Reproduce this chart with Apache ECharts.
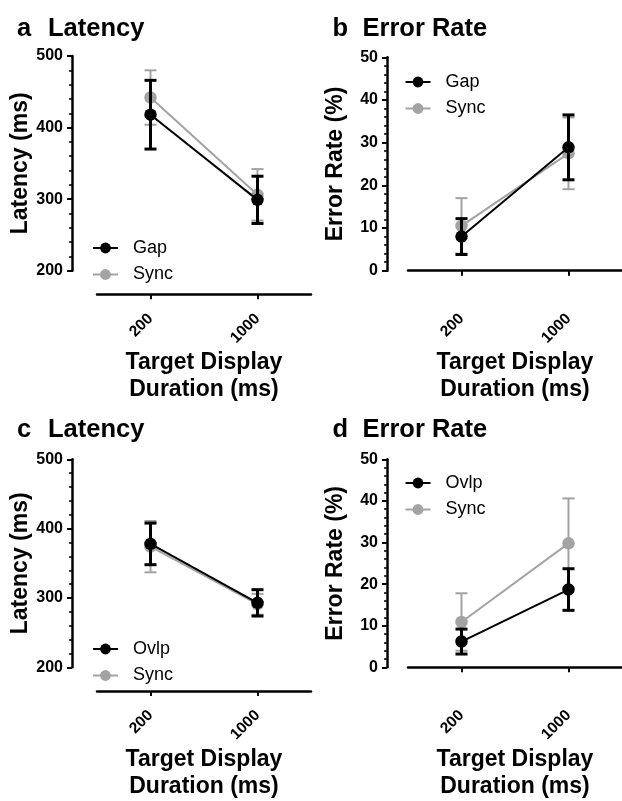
<!DOCTYPE html>
<html>
<head>
<meta charset="utf-8">
<script src="https://cdn.jsdelivr.net/npm/echarts@6/dist/echarts.min.js"></script>
<style>html,body{margin:0;padding:0;background:#fff}#c{width:622px;height:801px}</style>
</head>
<body>
<div id="c"></div>
<script>
// ---- data ----
const categories = ['200', '1000'];
// panel a: latency (ms)
const latGapMean = [418, 299];
const latGapErr = [48, 33];
const latSyncAMean = [442, 306];
const latSyncAErr = [38, 36];
// panel b: error rate (%)
const errGapMean = [8.0, 28.9];
const errGapErr = [4.2, 7.6];
const errSyncBMean = [10.5, 27.5];
const errSyncBErr = [6.5, 8.4];
// panel c: latency (ms)
const latOvlpMean = [378, 293];
const latOvlpErr = [30, 19];
const latSyncCMean = [374, 291];
const latSyncCErr = [37, 15];
// panel d: error rate (%)
const errOvlpMean = [6.2, 18.7];
const errOvlpErr = [3.0, 5.0];
const errSyncDMean = [10.9, 29.8];
const errSyncDErr = [6.9, 10.8];

const latTicks = [200, 300, 400, 500];
const errTicks = [0, 10, 20, 30, 40, 50];

const BLACK = '#000000';
const GRAY = '#a3a3a3';
const FONT = 'Liberation Sans, Arial, sans-serif';

const chart = echarts.init(document.getElementById('c'), null, {renderer: 'canvas'});

const panels = [
  {letter: 'a', title: 'Latency', yName: 'Latency (ms)', left: 97, top: 56, height: 214.7, ticks: latTicks,
   series: [{name: 'Sync', color: GRAY, mean: latSyncAMean, err: latSyncAErr},
            {name: 'Gap', color: BLACK, mean: latGapMean, err: latGapErr}],
   legend: ['Gap', 'Sync'], legLeft: 92, legTop: 238, titleTop: 16},
  {letter: 'b', title: 'Error Rate', yName: 'Error Rate (%)', left: 408, top: 57.3, height: 213.4, ticks: errTicks,
   series: [{name: 'Sync', color: GRAY, mean: errSyncBMean, err: errSyncBErr},
            {name: 'Gap', color: BLACK, mean: errGapMean, err: errGapErr}],
   legend: ['Gap', 'Sync'], legLeft: 404.5, legTop: 72, titleTop: 16},
  {letter: 'c', title: 'Latency', yName: 'Latency (ms)', left: 97, top: 459.3, height: 213.4, ticks: latTicks,
   series: [{name: 'Sync', color: GRAY, mean: latSyncCMean, err: latSyncCErr},
            {name: 'Ovlp', color: BLACK, mean: latOvlpMean, err: latOvlpErr}],
   legend: ['Ovlp', 'Sync'], legLeft: 92, legTop: 639, titleTop: 417},
  {letter: 'd', title: 'Error Rate', yName: 'Error Rate (%)', left: 408, top: 459.3, height: 213.4, ticks: errTicks,
   series: [{name: 'Sync', color: GRAY, mean: errSyncDMean, err: errSyncDErr},
            {name: 'Ovlp', color: BLACK, mean: errOvlpMean, err: errOvlpErr}],
   legend: ['Ovlp', 'Sync'], legLeft: 404.5, legTop: 473, titleTop: 417}
];

const grid = [], xAxis = [], yAxis = [], series = [], title = [], legend = [];

function errRender(color, lw, capW) {
  return function (params, api) {
    const x = api.value(0);
    const lo = api.coord([x, api.value(1)]);
    const hi = api.coord([x, api.value(2)]);
    const hw = capW / 2;
    const st = {stroke: color, lineWidth: lw, fill: null};
    return {
      type: 'group',
      children: [
        {type: 'line', shape: {x1: lo[0], y1: lo[1], x2: hi[0], y2: hi[1]}, style: st},
        {type: 'line', shape: {x1: hi[0] - hw, y1: hi[1], x2: hi[0] + hw, y2: hi[1]}, style: st},
        {type: 'line', shape: {x1: lo[0] - hw, y1: lo[1], x2: lo[0] + hw, y2: lo[1]}, style: st}
      ]
    };
  };
}

panels.forEach((p, i) => {
  const min = p.ticks[0], max = p.ticks[p.ticks.length - 1];
  const interval = p.ticks[1] - p.ticks[0];
  grid.push({left: p.left, top: p.top, width: 214, height: p.height, containLabel: false});
  xAxis.push({
    type: 'category', gridIndex: i, data: categories, boundaryGap: true,
    offset: 23.6,
    axisLine: {show: true, lineStyle: {color: BLACK, width: 2.5}},
    axisTick: {show: true, alignWithLabel: true, length: 5, lineStyle: {color: BLACK, width: 2}},
    axisLabel: {rotate: 45, margin: 22, fontSize: 15.5, fontWeight: 'bold', color: BLACK, fontFamily: FONT},
    splitLine: {show: false},
    name: 'Target Display\nDuration (ms)', nameLocation: 'middle', nameGap: 53,
    nameTextStyle: {fontSize: 23, fontWeight: 'bold', color: BLACK, fontFamily: FONT, lineHeight: 27}
  });
  yAxis.push({
    type: 'value', gridIndex: i, min: min, max: max, interval: interval,
    offset: i % 2 === 0 ? 25 : 21,
    axisLine: {show: true, lineStyle: {color: BLACK, width: 2.5}},
    axisTick: {show: true, length: 5, lineStyle: {color: BLACK, width: 2}},
    minorTick: {show: true, splitNumber: 5, length: 3, lineStyle: {color: BLACK, width: 1.5}},
    axisLabel: {margin: 9, fontSize: 16, fontWeight: 'bold', color: BLACK, fontFamily: FONT},
    splitLine: {show: false},
    name: p.yName, nameLocation: 'middle', nameGap: 40,
    nameTextStyle: {fontSize: 23, fontWeight: 'bold', color: BLACK, fontFamily: FONT}
  });
  title.push({text: p.letter, left: i % 2 === 0 ? 17 : 332.5, top: p.titleTop, padding: 0,
    textStyle: {fontSize: 25.5, fontWeight: 'bold', color: BLACK, fontFamily: FONT}});
  title.push({text: p.title, left: i % 2 === 0 ? 48 : 362.5, top: p.titleTop, padding: 0,
    textStyle: {fontSize: 25.5, fontWeight: 'bold', color: BLACK, fontFamily: FONT}});
  legend.push({
    orient: 'vertical', left: p.legLeft, top: p.legTop, data: p.legend, padding: 0,
    itemWidth: 25, itemHeight: 13.5, itemGap: 6.5, selectedMode: false,
    textStyle: {fontSize: 18, color: BLACK, fontFamily: FONT, lineHeight: 20, padding: [0, 0, 0, 10]}
  });
  let z = 2;
  p.series.forEach(s => {
    const isBlack = s.color === BLACK;
    series.push({
      type: 'custom', name: s.name + '_err', xAxisIndex: i, yAxisIndex: i, z: z++,
      renderItem: errRender(s.color, isBlack ? 3 : 2, 12),
      encode: {x: 0, y: [1, 2]},
      data: s.mean.map((m, k) => [k, m - s.err[k], m + s.err[k]]),
      silent: true
    });
    series.push({
      type: 'line', name: s.name, xAxisIndex: i, yAxisIndex: i, z: z++,
      data: s.mean, symbol: 'circle', symbolSize: 12.5, showSymbol: true,
      itemStyle: {color: s.color}, lineStyle: {color: s.color, width: 2},
      emphasis: {disabled: true}
    });
  });
});

chart.setOption({
  animation: false,
  backgroundColor: '#ffffff',
  title: title, legend: legend, grid: grid, xAxis: xAxis, yAxis: yAxis, series: series
});
</script>
</body>
</html>
